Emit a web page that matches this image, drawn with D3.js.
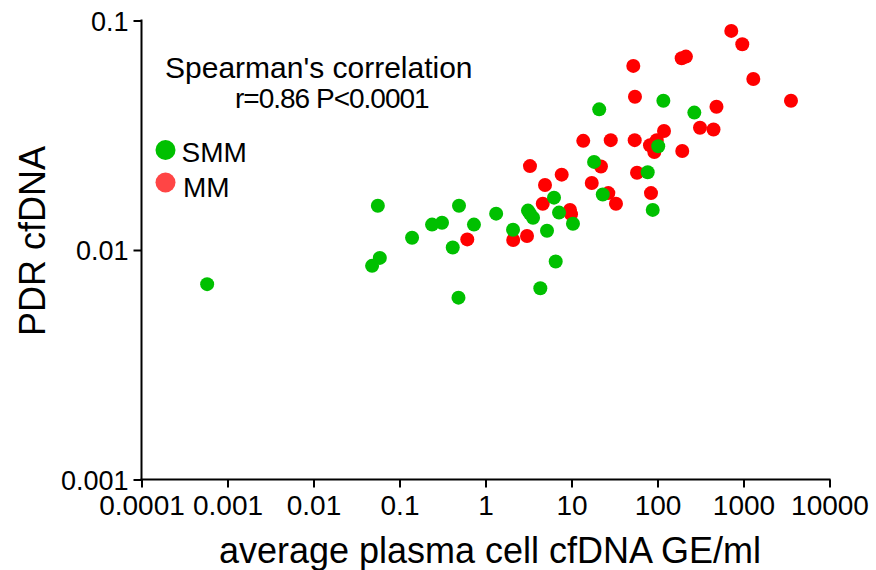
<!DOCTYPE html>
<html>
<head>
<meta charset="utf-8">
<script src="https://cdn.jsdelivr.net/npm/d3@7"></script>
<style>
  html, body { margin: 0; padding: 0; background: #fff; }
  svg { display: block; font-family: Arial, "Liberation Sans", sans-serif; }
</style>
</head>
<body>
<div id="chart"></div>
<script>
// SMM (green) points: plasma cell cfDNA GE/ml vs PDR cfDNA
const smmX = [0.00058, 0.048, 0.059, 0.056, 0.14, 0.239, 0.312, 0.416, 0.492, 0.485,
  0.734, 1.33, 2.09, 3.29, 3.57, 3.12, 4.34, 5.19, 6.26, 6.55,
  7.16, 10.4, 18.3, 21.0, 23.1, 76.9, 88.0, 102, 117, 268];
const smmY = [0.0071, 0.00853, 0.00924, 0.0156, 0.0113, 0.0129, 0.01315, 0.01026, 0.0156, 0.0062,
  0.0129, 0.0144, 0.01226, 0.0144, 0.01383, 0.01485, 0.00681, 0.01213, 0.01691, 0.00891,
  0.01455, 0.01302, 0.0242, 0.041, 0.01745, 0.0218, 0.01495, 0.0283, 0.0447, 0.0397];

// MM (red) points
const mmX = [0.614, 2.10, 3.04, 4.92, 4.63, 3.29, 7.69, 9.61, 9.87, 13.7,
  28.6, 54.3, 22.0, 17.2, 26.8, 32.9, 57.8, 84.0, 52.3, 54.7,
  191, 214, 119, 81.8, 97.9, 91.8, 312, 448, 194, 485,
  721, 968, 1300, 3565];
const mmY = [0.01112, 0.01105, 0.0115, 0.0192, 0.0159, 0.0232, 0.0213, 0.01495, 0.01433, 0.0299,
  0.0301, 0.0301, 0.0231, 0.0196, 0.0177, 0.0159, 0.0217, 0.0177, 0.0634, 0.0465,
  0.0685, 0.0696, 0.033, 0.0286, 0.0301, 0.0267, 0.0341, 0.0335, 0.027, 0.0421,
  0.0901, 0.0788, 0.0556, 0.0447];

const xTicks = [0.0001, 0.001, 0.01, 0.1, 1, 10, 100, 1000, 10000];
const xTickLabels = ['0.0001', '0.001', '0.01', '0.1', '1', '10', '100', '1000', '10000'];
const yTicks = [0.001, 0.01, 0.1];
const yTickLabels = ['0.001', '0.01', '0.1'];

const legendNames = ['SMM', 'MM'];
const statLines = ["Spearman's correlation", 'r=0.86 P<0.0001'];

const width = 876, height = 570;
const svg = d3.select('#chart').append('svg')
  .attr('width', width)
  .attr('height', height);

const x = d3.scaleLog().domain([0.0001, 10000]).range([141.5, 829.5]);
const y = d3.scaleLog().domain([0.001, 0.1]).range([479.5, 20.5]);

// minor ticks 2..9 per decade
function minors(lo, hi) {
  const out = [];
  for (let e = Math.log10(lo); e < Math.log10(hi); e++) {
    for (let k = 2; k <= 9; k++) out.push(k * Math.pow(10, e));
  }
  return out;
}

// x axis
const xAxisG = svg.append('g').attr('transform', `translate(0,${y.range()[0]})`);
xAxisG.call(d3.axisBottom(x).tickValues(minors(0.0001, 10000)).tickSize(4.5).tickSizeOuter(0).tickFormat(''));
xAxisG.call(d3.axisBottom(x).tickValues(xTicks).tickSize(8).tickSizeOuter(0)
  .tickFormat((d, i) => xTickLabels[i]));
xAxisG.selectAll('path.domain').attr('stroke-width', 2).attr('d', `M${x.range()[0] - 1},0H${x.range()[1] + 1}`);
xAxisG.selectAll('line').attr('stroke-width', 2);
xAxisG.selectAll('text')
  .attr('y', 15.5)
  .attr('dy', '0.71em')
  .style('font-size', '28px')
  .style('fill', '#000');

// y axis
const yAxisG = svg.append('g').attr('transform', `translate(${x.range()[0]},0)`);
yAxisG.call(d3.axisLeft(y).tickValues(minors(0.001, 0.1)).tickSize(5.5).tickSizeOuter(0).tickFormat(''));
yAxisG.call(d3.axisLeft(y).tickValues(yTicks).tickSize(8).tickSizeOuter(0)
  .tickFormat((d, i) => yTickLabels[i]));
yAxisG.selectAll('path.domain').attr('stroke-width', 2).attr('d', `M0,${y.range()[1] - 1}V${y.range()[0] + 1}`);
yAxisG.selectAll('line').attr('stroke-width', 2);
yAxisG.selectAll('text')
  .attr('x', -13)
  .attr('dy', '0.36em')
  .style('font-size', '27px')
  .style('fill', '#000');

// axis titles
svg.append('text')
  .attr('x', 490)
  .attr('y', 563)
  .attr('text-anchor', 'middle')
  .style('font-size', '36px')
  .text('average plasma cell cfDNA GE/ml');

svg.append('text')
  .attr('transform', 'translate(45,241) rotate(-90)')
  .attr('text-anchor', 'middle')
  .style('font-size', '36px')
  .text('PDR cfDNA');

// points: MM first, SMM on top
const mmData = mmX.map((v, i) => ({ x: v, y: mmY[i] }));
const smmData = smmX.map((v, i) => ({ x: v, y: smmY[i] }));

svg.append('g').selectAll('circle')
  .data(mmData)
  .enter()
  .append('circle')
  .attr('cx', d => x(d.x))
  .attr('cy', d => y(d.y))
  .attr('r', 7)
  .style('fill', '#ff0000');

svg.append('g').selectAll('circle')
  .data(smmData)
  .enter()
  .append('circle')
  .attr('cx', d => x(d.x))
  .attr('cy', d => y(d.y))
  .attr('r', 7)
  .style('fill', '#00c000');

// stats annotation
svg.append('text')
  .attr('x', 165)
  .attr('y', 78)
  .style('font-size', '30px')
  .text(statLines[0]);
svg.append('text')
  .attr('x', 235)
  .attr('y', 108)
  .style('font-size', '28px')
  .style('letter-spacing', '-1px')
  .text(statLines[1]);

// legend
const legendColors = ['#00c000', '#ff4545'];
const legendDotY = [150, 182.5];
const legendTextY = [161.5, 196.5];
legendNames.forEach((name, i) => {
  svg.append('circle')
    .attr('cx', 165.5)
    .attr('cy', legendDotY[i])
    .attr('r', 10)
    .style('fill', legendColors[i]);
  svg.append('text')
    .attr('x', i === 0 ? 181.5 : 183)
    .attr('y', legendTextY[i])
    .style('font-size', '28px')
    .text(name);
});
</script>
</body>
</html>
